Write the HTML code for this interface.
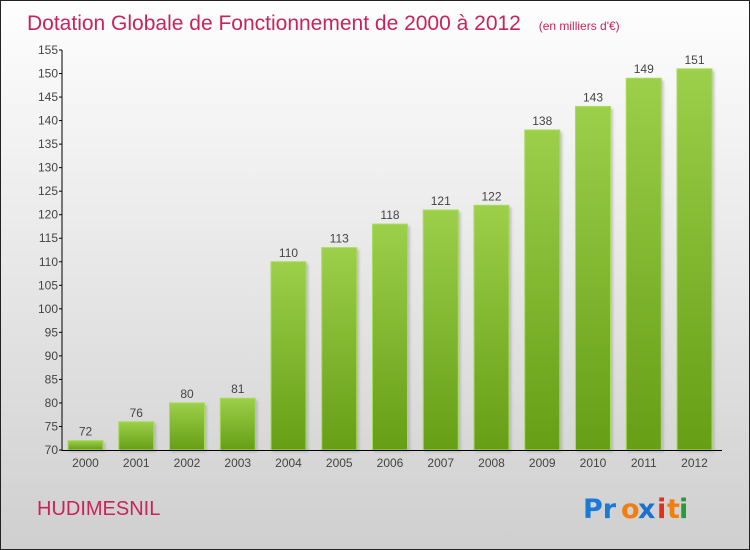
<!DOCTYPE html>
<html><head><meta charset="utf-8"><style>
body{margin:0}
#c{position:relative;width:748px;height:548px;border:1px solid #222;background:linear-gradient(#fefefe,#f0f0f0 30%,#cfcfcf);overflow:hidden;font-family:"Liberation Sans",sans-serif}
</style></head><body>
<div id="c">
<svg width="748" height="548" id="svg">
<defs>
<linearGradient id="g" x1="0" y1="0" x2="0" y2="1"><stop offset="0" stop-color="#9ccf4a"/><stop offset="1" stop-color="#669e16"/></linearGradient>
<filter id="sh"><feGaussianBlur stdDeviation="1.2"/></filter>
</defs>
<text x="26" y="29" font-size="21" fill="#c8245a">Dotation Globale de Fonctionnement de 2000 à 2012 <tspan font-size="12" dx="12">(en milliers d'€)</tspan></text>
<g id="bars"></g>
<g id="axes"></g>
<text x="36" y="514" font-size="20" fill="#c8245a">HUDIMESNIL</text>
<g font-size="27" font-weight="bold" font-family="'DejaVu Sans',sans-serif">
<text x="582" y="517" fill="#1a7ad6">Pr</text><text x="620" y="517" fill="#f07f10">o</text><text x="637" y="517" fill="#1a6fd0">x</text><text x="656" y="517" fill="#e0301a">i</text><text x="666" y="517" fill="#f07f10">t</text><text x="678" y="517" fill="#2a9a3a">i</text>
</g>
</svg>
</div>
<script>
const years=["2000","2001","2002","2003","2004","2005","2006","2007","2008","2009","2010","2011","2012"];
const values=[72,76,80,81,110,113,118,121,122,138,143,149,151];
const ticks=[70,75,80,85,90,95,100,105,110,115,120,125,130,135,140,145,150,155];
const NS="http://www.w3.org/2000/svg";
const y=v=>449-(v-70)*400/85;
const x=i=>84.5+50.75*i;
function el(t,a,p){const e=document.createElementNS(NS,t);for(const k in a)e.setAttribute(k,a[k]);p.appendChild(e);return e;}
const bars=document.getElementById('bars'),axes=document.getElementById('axes');
values.forEach((v,i)=>{
 const sh=el('rect',{x:x(i)-16,y:y(v)+2,width:36,height:449-y(v),fill:'#999',opacity:0.5,filter:'url(#sh)'},bars);
 
 
 const r=el('rect',{x:x(i)-17.5,y:y(v),width:35,height:449-y(v),fill:'url(#g)',stroke:'#a8dc5a','stroke-width':1},bars);
 
 
 const t=el('text',{x:x(i),y:y(v)-5,'text-anchor':'middle','font-size':12,fill:'#444'},bars);t.textContent=v;
 
 
 const l=el('text',{x:x(i),y:466,'text-anchor':'middle','font-size':12,fill:'#444'},axes);l.textContent=years[i];
 
 
});
ticks.forEach(v=>{
 const t=el('text',{x:57,y:y(v)+4,'text-anchor':'end','font-size':12,fill:'#444'},axes);t.textContent=v;
 
 
 el('line',{x1:58,x2:61,y1:y(v),y2:y(v),stroke:'#000'},axes);
});
const ya=el('line',{x1:61,x2:61,y1:y(155),y2:450,stroke:'#000'},axes);


const xa=el('line',{x1:61,x2:721,y1:449.5,y2:449.5,stroke:'#000'},axes);


</script>
</body></html>
